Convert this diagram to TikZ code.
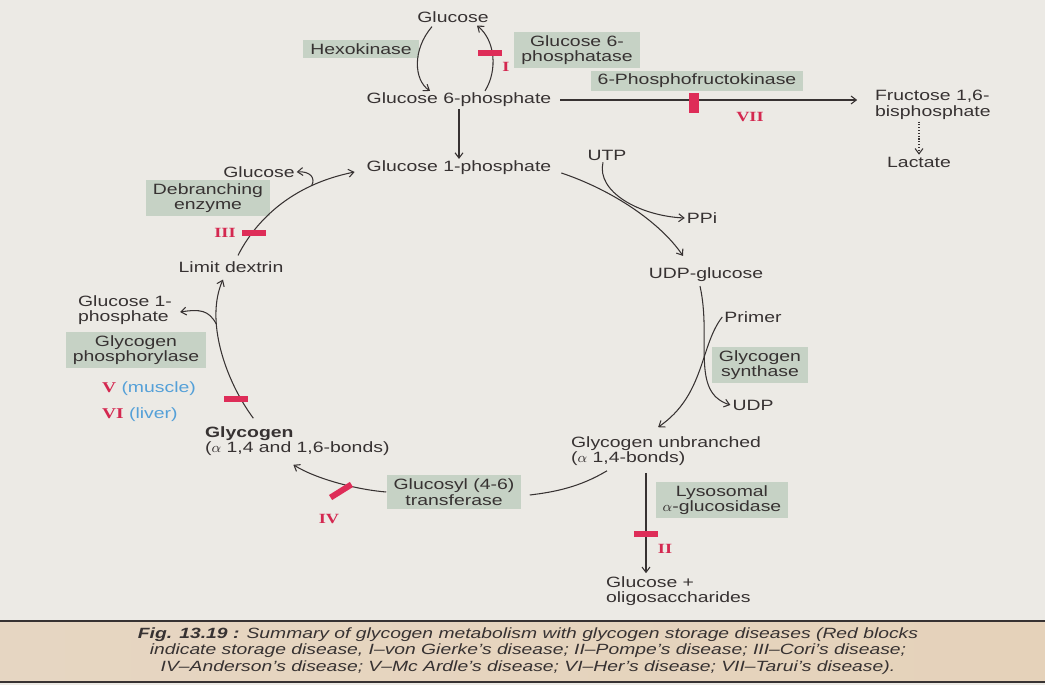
\documentclass[tikz,border=0pt]{standalone}
\usepackage{fontspec}
\setmainfont{Liberation Sans}[FakeStretch=1.3]
\newfontfamily\romfont{Liberation Serif}[FakeStretch=1.3]
\usepackage{xcolor}
\usepackage{tikz}
\usetikzlibrary{arrows.meta}
\definecolor{pagebg}{RGB}{236,234,229}
\definecolor{enzbox}{RGB}{198,210,197}
\definecolor{blockred}{RGB}{222,45,88}
\definecolor{numred}{RGB}{212,40,80}
\definecolor{tissue}{RGB}{84,160,216}
\definecolor{ink}{RGB}{55,50,50}
\definecolor{capleft}{RGB}{230,214,194}
\definecolor{capmid}{RGB}{223,194,156}
\definecolor{capright}{RGB}{229,210,186}

\begin{document}
\begin{tikzpicture}[x=0.02cm,y=-0.02cm,
    font=\fontsize{8.5}{8.8}\selectfont, text=ink, inner sep=1pt,
    enz/.style={fill=enzbox,inner xsep=4pt,inner ysep=2pt,align=center},
    blk/.style={fill=blockred,minimum width=14pt,minimum height=3.4pt,inner sep=0pt},
    num/.style={text=numred,font=\romfont\bfseries\fontsize{8}{8}\selectfont},
    arr/.style={draw=ink,line width=0.6pt,-{Straight Barb[length=3pt,width=4.5pt]}},
    ln/.style={draw=ink,line width=0.6pt}]
  \useasboundingbox (0,0) rectangle (1045,685);
  \fill[pagebg] (0,0) rectangle (1045,685);
      \node (A) at (453,17) {Glucose};
      \node (B) at (459,100) {Glucose 6-phosphate};
      \node (C) at (459,168) {Glucose 1-phosphate};
      \node[anchor=west,align=left] (D) at (873,105) {Fructose 1,6-\\bisphosphate};
      \node (E) at (919,162) {Lactate};
      \node (F) at (607,155) {UTP};
      \node (G) at (702,218) {PPi};
      \node (H) at (706,275) {UDP-glucose};
      \node (I) at (753,317) {Primer};
      \node (J) at (753,405) {UDP};
      \node[anchor=west,align=left] (K) at (569,451) {Glycogen unbranched\\($\alpha$ 1,4-bonds)};
      \node[anchor=west,align=left] (L) at (604,591) {Glucose +\\oligosaccharides};
      \node[anchor=west,align=left] (M) at (203,441) {\textbf{Glycogen}\\($\alpha$ 1,4 and 1,6-bonds)};
      \node (N) at (231,267) {Limit dextrin};
      \node[anchor=west,align=left] (O) at (76,310) {Glucose 1-\\phosphate};
      \node (P) at (259,172) {Glucose};
        % enzymes
      \node[enz] (R) at (361,49) {Hexokinase};
      \node[enz] (S) at (577,50) {Glucose 6-\\phosphatase};
      \node[enz] (T) at (697,81) {6-Phosphofructokinase};
      \node[enz] (U) at (208,198) {Debranching\\enzyme};
      \node[enz] (V) at (136,350) {Glycogen\\phosphorylase};
      \node[enz] (W) at (760,365) {Glycogen\\synthase};
      \node[enz] (Q) at (454,492) {Glucosyl (4-6)\\transferase};
      \node[enz] (X) at (722,500) {Lysosomal\\$\alpha$-glucosidase};
      \draw[arr] ([shift={(-21,2)}]A.south) .. controls (412,50) and (414,80) .. ([shift={(-29,0)}]B.north);
      \draw[arr] ([shift={(26,0)}]B.north) .. controls (498,70) and (495,40) .. ([shift={(24,1)}]A.south);
      \draw[arr,shorten <=4pt] (B.east) -- ([xshift=-9pt]B.east -| D.west);
      \draw[arr,densely dotted] (E.north |- D.south) -- (E.north);
      \draw[arr] (B) -- (C);
      \draw[arr] ([shift={(8,5)}]C.east) .. controls (612,190) and (660,222) .. ([shift={(-23,-10)}]H.north);
      \draw[arr] ([shift={(-4,0)}]F.south) .. controls (596,192) and (640,216) .. (G.west);
      \draw[arr] ([shift={(-6,2)}]H.south) .. controls (712,340) and (690,392) .. (J.west);
      \draw[arr] (I.west) .. controls (700,345) and (705,395) .. ([shift={(-8,-7)}]K.north);
      \draw[arr] ([shift={(77,5)}]K.south west) -- ([shift={(42,-1)}]L.north west);
      \draw[ln] ([shift={(38,3)}]K.south west) .. controls (580,487) and (555,492) .. ([shift={(8,3)}]Q.east);
      \draw[arr] (Q.west) .. controls (360,490) and (318,480) .. ([shift={(-4,7)}]M.south);
      \draw[arr] ([shift={(-44,-6)}]M.north) .. controls (225,380) and (205,320) .. ([shift={(-8,5)}]N.south) coordinate[pos=0.67] (g1);
      \draw[arr] (g1) .. controls (209,310) and (200,309) .. ([shift={(6,2)}]O.east);
      \draw[arr] ([shift={(7,-4)}]N.north) .. controls (255,222) and (290,185) .. ([shift={(-10,4)}]C.west) coordinate[pos=0.75] (g2);
      \draw[arr] (g2) .. controls (316,178) and (310,171) .. (P.east);
        % red blocks
      \node[blk] at (490,53) {};
      \node[num] at (506,67) {I};
      \node[blk,minimum width=5.5pt,minimum height=11pt] at (694,103) {};
      \node[num] at (750,117) {VII};
      \node[blk] at (254,233) {};
      \node[num] at (225,233) {III};
      \node[blk] at (236,399) {};
      \node[blk] at (646,534) {};
      \node[num] at (665,549) {II};
      \node[blk,rotate=32] at (341,491) {};
      \node[num] at (329,519) {IV};
      \node[anchor=west] at (100,389) {{\romfont\bfseries\color{numred}V} \textcolor{tissue}{(muscle)}};
      \node[anchor=west] at (100,415) {{\romfont\bfseries\color{numred}VI} \textcolor{tissue}{(liver)}};
        % caption
      \shade[left color=capleft,middle color=capmid,right color=capright] (0,621) rectangle (1045,682);
      \draw[ink,line width=1.2pt] (0,621) -- (1045,621);
      \draw[ink,line width=1.2pt] (0,682) -- (1045,682);
      \node[align=center,font=\fontsize{8.45}{9.3}\selectfont\itshape] (Z) at (528,651) {\textbf{Fig. 13.19 :} Summary of glycogen metabolism with glycogen storage diseases (Red blocks\\indicate storage disease, I--von Gierke's disease; II--Pompe's disease; III--Cori's disease;\\IV--Anderson's disease; V--Mc Ardle's disease; VI--Her's disease; VII--Tarui's disease).};
\end{tikzpicture}
\end{document}
